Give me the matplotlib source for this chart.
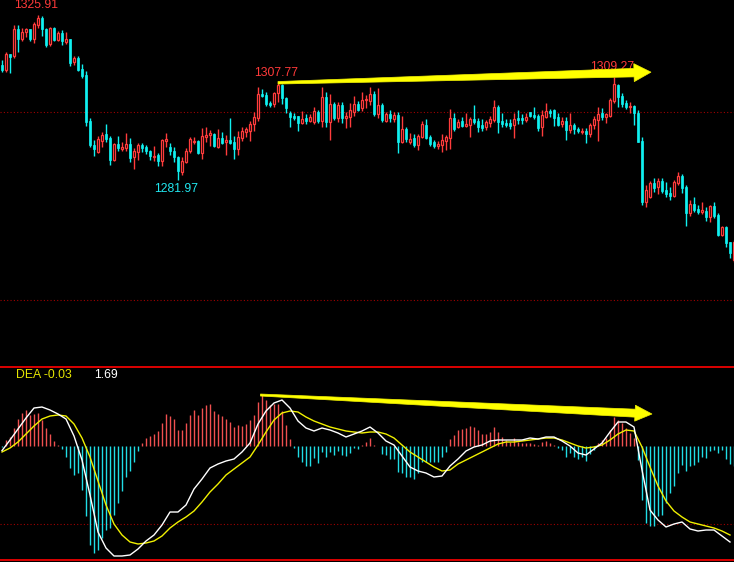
import numpy as np
import matplotlib
matplotlib.use("Agg")
import matplotlib.pyplot as plt
from matplotlib.patches import Polygon
from matplotlib.transforms import IdentityTransform

# daily candles (open / high / low / close)
opens = [
    1312.5, 1311.2, 1315.4, 1314.9, 1322.1, 1319.4, 1321.3, 1322.1, 1319.4, 1323.2,
    1325.0, 1322.1, 1318.1, 1322.4, 1319.2, 1321.0, 1318.6, 1319.4, 1313.3, 1314.4,
    1311.4, 1309.8, 1297.6, 1291.2, 1289.4, 1292.3, 1294.2, 1293.1, 1287.2, 1291.5,
    1290.2, 1290.4, 1291.5, 1288.0, 1289.4, 1291.2, 1290.7, 1289.6, 1288.0, 1288.6,
    1287.0, 1292.3, 1290.7, 1289.6, 1288.0, 1284.0, 1286.7, 1289.6, 1292.0, 1292.3,
    1289.1, 1293.4, 1293.9, 1294.2, 1290.7, 1293.1, 1292.0, 1292.6, 1292.0, 1290.2,
    1293.1, 1294.7, 1294.9, 1296.8, 1298.4, 1304.8, 1304.5, 1302.4, 1302.1, 1305.1,
    1307.2, 1303.7, 1299.7, 1298.9, 1298.9, 1297.1, 1298.4, 1297.6, 1297.3, 1300.0,
    1297.6, 1304.0, 1297.3, 1302.1, 1298.4, 1301.9, 1298.4, 1298.7, 1300.0, 1302.1,
    1301.1, 1303.2, 1302.9, 1304.8, 1299.5, 1301.9, 1297.6, 1299.5, 1298.1, 1299.2,
    1292.0, 1295.5, 1292.0, 1293.1, 1291.2, 1293.4, 1296.5, 1293.4, 1292.0, 1291.0,
    1291.2, 1292.3, 1293.1, 1298.4, 1296.0, 1297.6, 1296.3, 1296.5, 1298.1, 1297.6,
    1296.5, 1296.0, 1297.1, 1297.9, 1301.3, 1297.6, 1297.1, 1297.1, 1296.5, 1298.4,
    1298.4, 1297.9, 1300.0, 1299.2, 1298.9, 1296.0, 1298.7, 1300.3, 1300.5, 1298.7,
    1296.8, 1297.6, 1295.2, 1296.5, 1295.5, 1294.7, 1294.9, 1294.2, 1296.5, 1297.9,
    1299.7, 1298.7, 1298.9, 1302.9, 1307.2, 1304.3, 1302.4, 1301.3, 1301.6, 1299.7,
    1292.3, 1276.1, 1277.4, 1281.1, 1280.1, 1281.6, 1279.3, 1278.5, 1277.7, 1281.1,
    1283.0, 1280.1, 1273.1, 1275.5, 1274.2, 1273.4, 1273.7, 1272.1, 1275.0, 1272.6,
    1267.3, 1269.4, 1265.4, 1260.6,
]
highs = [
    1313.8, 1316.0, 1315.4, 1323.2, 1323.2, 1322.4, 1322.4, 1322.1, 1324.0, 1325.91,
    1325.5, 1322.4, 1322.6, 1322.6, 1321.6, 1321.8, 1321.3, 1319.4, 1314.9, 1314.9,
    1312.8, 1310.9, 1298.4, 1292.6, 1293.6, 1294.7, 1296.8, 1293.6, 1291.8, 1293.6,
    1292.0, 1294.4, 1293.1, 1290.4, 1291.8, 1291.8, 1291.2, 1289.9, 1291.0, 1289.1,
    1292.8, 1294.4, 1291.8, 1290.7, 1288.3, 1288.0, 1290.4, 1293.4, 1293.4, 1292.6,
    1295.7, 1296.0, 1295.2, 1294.4, 1295.5, 1294.7, 1293.9, 1298.4, 1293.6, 1294.9,
    1296.0, 1296.0, 1297.6, 1300.0, 1306.7, 1306.1, 1305.3, 1302.9, 1305.3, 1307.77,
    1307.5, 1304.0, 1300.3, 1299.7, 1298.9, 1300.3, 1299.5, 1299.5, 1301.3, 1300.5,
    1306.7, 1305.3, 1304.8, 1302.7, 1302.7, 1302.7, 1300.0, 1302.4, 1304.3, 1302.9,
    1305.3, 1304.5, 1306.7, 1305.6, 1306.4, 1302.4, 1300.0, 1300.5, 1300.0, 1300.0,
    1298.9, 1296.0, 1294.4, 1294.2, 1294.2, 1297.6, 1298.1, 1293.9, 1292.6, 1292.3,
    1294.2, 1293.9, 1300.8, 1299.7, 1298.1, 1298.7, 1299.7, 1298.7, 1301.9, 1298.4,
    1298.1, 1297.9, 1298.9, 1303.2, 1301.9, 1299.7, 1298.1, 1298.1, 1299.7, 1300.5,
    1299.5, 1299.7, 1300.0, 1301.3, 1299.5, 1300.5, 1302.4, 1300.8, 1300.8, 1299.7,
    1298.7, 1298.7, 1299.7, 1297.1, 1296.0, 1295.7, 1295.7, 1297.1, 1298.9, 1301.3,
    1301.1, 1299.7, 1303.7, 1309.27, 1307.5, 1305.1, 1303.2, 1302.7, 1301.9, 1300.5,
    1293.4, 1280.6, 1281.6, 1282.4, 1282.4, 1282.4, 1281.4, 1280.1, 1281.9, 1284.0,
    1283.5, 1280.6, 1276.6, 1277.4, 1275.3, 1276.1, 1274.7, 1275.3, 1276.1, 1273.1,
    1269.7, 1269.7, 1265.4, 1266.0,
]
lows = [
    1310.6, 1310.6, 1310.4, 1314.4, 1316.0, 1318.9, 1320.0, 1318.9, 1318.4, 1322.4,
    1320.2, 1317.3, 1317.6, 1318.9, 1318.9, 1317.8, 1318.1, 1312.2, 1312.5, 1310.9,
    1309.0, 1296.3, 1290.7, 1288.3, 1289.1, 1290.7, 1292.0, 1285.9, 1287.0, 1289.6,
    1289.6, 1289.6, 1286.7, 1284.8, 1287.2, 1289.4, 1288.8, 1287.2, 1287.0, 1285.6,
    1285.6, 1290.7, 1288.6, 1286.7, 1281.97, 1283.2, 1286.4, 1289.1, 1291.5, 1288.9,
    1287.5, 1292.0, 1291.0, 1290.7, 1290.4, 1291.5, 1288.6, 1291.5, 1287.5, 1288.6,
    1292.3, 1293.4, 1292.3, 1294.9, 1297.6, 1304.0, 1301.6, 1301.3, 1301.3, 1302.7,
    1302.1, 1299.7, 1296.0, 1297.9, 1294.9, 1296.8, 1296.8, 1297.3, 1296.8, 1297.1,
    1296.0, 1296.0, 1292.6, 1297.9, 1297.3, 1297.1, 1295.7, 1296.0, 1298.9, 1300.3,
    1300.3, 1301.1, 1301.9, 1298.9, 1298.4, 1297.3, 1297.3, 1297.3, 1297.3, 1289.1,
    1291.8, 1292.0, 1291.5, 1290.7, 1289.9, 1293.1, 1292.8, 1291.0, 1290.4, 1290.2,
    1289.4, 1289.9, 1290.2, 1294.9, 1295.7, 1296.0, 1296.0, 1293.4, 1296.8, 1294.7,
    1294.9, 1295.2, 1296.0, 1297.3, 1294.4, 1296.0, 1296.0, 1295.5, 1293.1, 1296.8,
    1296.8, 1297.3, 1298.7, 1298.1, 1294.9, 1293.6, 1298.4, 1298.7, 1296.3, 1296.3,
    1296.0, 1292.6, 1294.4, 1294.2, 1294.4, 1294.2, 1291.8, 1293.4, 1295.5, 1292.3,
    1297.9, 1297.1, 1298.7, 1302.4, 1301.3, 1301.3, 1300.8, 1299.7, 1296.5, 1291.9,
    1275.3, 1274.7, 1277.1, 1278.7, 1278.2, 1278.5, 1277.4, 1276.6, 1277.4, 1280.6,
    1278.5, 1269.7, 1272.3, 1273.4, 1272.9, 1272.9, 1271.0, 1270.7, 1271.8, 1267.0,
    1267.0, 1264.1, 1261.2, 1260.1,
]
closes = [
    1311.2, 1315.4, 1314.6, 1322.1, 1319.4, 1321.3, 1322.1, 1319.4, 1323.4, 1325.0,
    1322.1, 1317.8, 1322.4, 1319.2, 1321.0, 1318.9, 1319.4, 1313.0, 1314.4, 1311.2,
    1309.6, 1297.3, 1291.2, 1290.2, 1292.8, 1293.9, 1292.8, 1287.2, 1291.5, 1290.4,
    1290.7, 1291.5, 1287.8, 1289.6, 1291.2, 1290.4, 1289.6, 1288.3, 1288.3, 1287.0,
    1292.6, 1292.8, 1289.6, 1288.0, 1284.3, 1287.0, 1289.6, 1292.8, 1292.3, 1289.1,
    1293.6, 1293.9, 1294.4, 1291.0, 1293.1, 1291.8, 1292.6, 1291.8, 1290.2, 1293.4,
    1294.9, 1295.5, 1296.8, 1298.7, 1304.8, 1304.3, 1302.1, 1301.9, 1305.1, 1307.2,
    1303.7, 1301.1, 1298.7, 1298.4, 1297.1, 1298.1, 1297.6, 1298.7, 1300.3, 1297.6,
    1304.0, 1297.3, 1302.1, 1298.4, 1301.9, 1298.4, 1298.9, 1300.5, 1302.1, 1300.5,
    1303.2, 1303.5, 1304.8, 1299.5, 1301.9, 1297.9, 1299.5, 1298.4, 1299.2, 1292.0,
    1295.5, 1292.8, 1292.8, 1291.2, 1293.6, 1296.8, 1293.1, 1291.5, 1291.0, 1291.5,
    1292.6, 1293.4, 1298.4, 1295.5, 1297.3, 1296.3, 1296.8, 1298.1, 1297.3, 1296.0,
    1295.7, 1297.3, 1298.1, 1301.3, 1297.3, 1296.8, 1296.5, 1296.3, 1298.1, 1297.9,
    1297.9, 1298.7, 1298.9, 1298.7, 1295.7, 1299.2, 1300.3, 1299.7, 1298.4, 1296.5,
    1297.6, 1295.2, 1296.5, 1295.5, 1294.9, 1294.9, 1294.2, 1296.5, 1298.1, 1299.5,
    1298.7, 1299.5, 1303.2, 1307.5, 1304.0, 1302.1, 1301.3, 1301.6, 1299.7, 1292.0,
    1276.1, 1279.3, 1281.1, 1279.8, 1281.6, 1279.0, 1278.2, 1277.7, 1281.4, 1283.0,
    1279.8, 1273.1, 1275.5, 1273.9, 1273.4, 1273.9, 1272.1, 1275.0, 1272.3, 1267.3,
    1269.4, 1265.2, 1262.5, 1265.4,
]

# MACD lines, read every second bar
macd_idx = list(range(0, 184, 2))
dif = [
    -0.23, 0.30, 0.85, 1.40, 1.90, 1.95, 1.80, 1.60, 1.35, 0.50,
    -0.70, -2.45, -4.30, -5.10, -5.50, -5.50, -5.45, -5.15, -4.75, -4.45,
    -3.95, -3.30, -3.30, -2.95, -2.15, -1.65, -1.10, -0.90, -0.75, -0.65,
    -0.30, 0.15, 1.10, 1.75, 2.15, 2.30, 1.90, 1.25, 0.90, 0.75,
    0.90, 0.80, 0.65, 0.45, 0.60, 0.75, 0.95, 0.65, 0.25, 0.05,
    -0.50, -1.05, -1.25, -1.35, -1.55, -1.50, -1.00, -0.65, -0.25, -0.05,
    0.05, 0.25, 0.30, 0.30, 0.30, 0.30, 0.40, 0.35, 0.45, 0.45,
    0.25, 0.00, -0.35, -0.45, -0.15, 0.15, 0.70, 1.20, 1.20, 0.95,
    -1.20, -3.20, -3.70, -4.05, -3.90, -3.80, -4.15, -4.25, -4.20, -4.20,
    -4.50, -4.80,
]
dea = [
    -0.30, -0.10, 0.20, 0.60, 1.00, 1.35, 1.50, 1.55, 1.50, 1.10,
    0.40, -0.55, -1.75, -2.95, -3.90, -4.45, -4.80, -4.90, -4.85, -4.75,
    -4.50, -4.10, -3.80, -3.55, -3.25, -2.80, -2.30, -1.90, -1.45, -1.15,
    -0.85, -0.55, 0.05, 0.70, 1.30, 1.65, 1.75, 1.70, 1.45, 1.25,
    1.10, 0.95, 0.85, 0.75, 0.70, 0.65, 0.70, 0.70, 0.60, 0.40,
    0.05, -0.30, -0.55, -0.80, -1.05, -1.25, -1.20, -0.90, -0.70, -0.50,
    -0.30, -0.10, 0.10, 0.20, 0.20, 0.25, 0.30, 0.35, 0.40, 0.40,
    0.30, 0.15, 0.00, -0.10, -0.05, 0.05, 0.30, 0.60, 0.80, 0.75,
    -0.05, -1.05, -2.00, -2.75, -3.25, -3.55, -3.80, -3.90, -4.00, -4.10,
    -4.25, -4.45,
]
# MACD histogram, one bar per candle
macd_hist = [
    -0.05, 0.28, 0.45, 0.90, 1.35, 1.65, 1.78, 1.55, 1.60, 1.65,
    1.30, 0.90, 0.60, 0.25, 0.05, -0.15, -0.53, -1.10, -1.45, -1.35,
    -2.20, -3.50, -4.95, -5.35, -5.20, -4.60, -4.20, -4.10, -3.45, -2.85,
    -2.25, -1.55, -1.25, -0.80, -0.27, 0.15, 0.40, 0.50, 0.60, 0.73,
    1.15, 1.60, 1.50, 1.35, 0.80, 0.80, 1.15, 1.55, 1.80, 1.55,
    1.90, 2.05, 2.10, 1.73, 1.60, 1.50, 1.35, 1.18, 0.93, 1.05,
    1.00, 1.10, 1.30, 1.55, 2.20, 2.55, 2.30, 2.05, 2.10, 2.10,
    1.73, 1.05, 0.35, -0.10, -0.55, -0.78, -1.00, -1.00, -0.60, -0.85,
    -0.28, -0.55, -0.28, -0.45, -0.23, -0.45, -0.50, -0.35, -0.12, -0.15,
    0.05, 0.22, 0.42, 0.03, 0.02, -0.40, -0.45, -0.65, -0.67, -1.30,
    -1.35, -1.55, -1.55, -1.65, -1.35, -0.78, -0.82, -0.82, -0.78, -0.78,
    -0.53, -0.28, 0.35, 0.55, 0.80, 0.85, 0.90, 1.00, 0.95, 0.80,
    0.62, 0.62, 0.70, 0.95, 0.72, 0.45, 0.30, 0.22, 0.38, 0.22,
    0.13, 0.15, 0.15, 0.10, 0.05, 0.22, 0.25, 0.15, 0.03, -0.12,
    -0.20, -0.53, -0.37, -0.53, -0.67, -0.57, -0.73, -0.40, -0.20, 0.13,
    0.30, 0.38, 0.80, 1.43, 1.30, 1.13, 0.88, 0.67, 0.38, -0.70,
    -2.70, -3.85, -4.02, -4.00, -3.52, -3.45, -2.85, -2.35, -2.02, -1.35,
    -0.95, -1.27, -1.02, -0.95, -0.78, -0.53, -0.60, -0.23, -0.20, -0.37,
    -0.20, -0.67, -0.90, -1.00,
]

# price labels and divergence arrows
peak_labels = [(9, "1325.91"), (69, "1307.77"), (153, "1309.27")]
trough_labels = [(44, "1281.97")]
price_arrow = ((69, 1307.77), (162.25, 1310.6))
macd_arrow = ((64.6, 2.55), (162.5, 1.6))
dea_text = "DEA -0.03"
last_text = "1.69"

up_col = "#ff3c3c"
down_col = "#10f0f0"
hist_up = "#f05050"
hist_down = "#20dde6"
grid_col = "#a00000"
font = "Liberation Sans"

o = np.array(opens)
h = np.array(highs)
l = np.array(lows)
c = np.array(closes)
x = np.arange(len(o))
up = c >= o

fig = plt.figure(figsize=(7.34, 5.62), dpi=100, facecolor="black")
ax = fig.add_axes([0, 0.3488, 1, 0.6512])
ax2 = fig.add_axes([0, 0.00356, 1, 0.3434])
for a in (ax, ax2):
    a.set_facecolor("black")
    a.set_xlim(-0.5, 183.0)
    a.set_xticks([])
    a.set_yticks([])
    for s in a.spines.values():
        s.set_visible(False)


def tapered_arrow(axis, start, end, w0, w1, head_w, head_len):
    # hand-drawn style arrow: thin tail, wider shaft, big head (sizes in px)
    p0 = axis.transData.transform(start)
    p1 = axis.transData.transform(end)
    u = (p1 - p0) / np.hypot(*(p1 - p0))
    n = np.array([-u[1], u[0]])
    base = p1 - u * head_len
    pts = [p0 + n * w0 / 2, base + n * w1 / 2, base + n * head_w / 2, p1,
           base - n * head_w / 2, base - n * w1 / 2, p0 - n * w0 / 2]
    fig.add_artist(Polygon(pts, closed=True, facecolor="#ffff00",
                           edgecolor="#f0f000", lw=0.5,
                           transform=IdentityTransform(), zorder=6))


# candles
ax.set_ylim(1232.45, 1329.79)
ax.axhline(1300, color=grid_col, ls=(0, (1, 2)), lw=0.8, zorder=0)
ax.axhline(1250, color=grid_col, ls=(0, (1, 2)), lw=0.8, zorder=0)
ax.vlines(x, l, h, colors=np.where(up, up_col, down_col), lw=1.0, zorder=2)
bottom = np.minimum(o, c)
height = np.maximum(np.abs(c - o), 0.2)
ax.bar(x[up], height[up], bottom=bottom[up], width=0.72,
       facecolor="black", edgecolor=up_col, lw=0.9, zorder=3)
ax.bar(x[~up], height[~up], bottom=bottom[~up], width=0.72,
       facecolor=down_col, edgecolor=down_col, lw=0.5, zorder=3)

for i, txt in peak_labels:
    ax.annotate(txt, xy=(i, h[i]), xytext=(-1, 7), textcoords="offset points",
                ha="center", va="center", color="#ff3a3a", fontsize=8.8,
                family=font, zorder=4)
for i, txt in trough_labels:
    ax.annotate(txt, xy=(i, l[i]), xytext=(-1, -6.5), textcoords="offset points",
                ha="center", va="center", color="#20e8f0", fontsize=8.8,
                family=font, zorder=4)

# MACD panel
ax2.set_ylim(-5.7, 3.95)
ax2.spines["top"].set_visible(True)
ax2.spines["bottom"].set_visible(True)
ax2.spines["top"].set_color("#dd0000")
ax2.spines["bottom"].set_color("#dd0000")
ax2.spines["top"].set_linewidth(1.4)
ax2.spines["bottom"].set_linewidth(1.4)
ax2.axhline(-3.9, color=grid_col, ls=(0, (1, 2)), lw=0.8, zorder=0)

hist = np.array(macd_hist)
ax2.vlines(x, 0, hist, colors=np.where(hist >= 0, hist_up, hist_down), lw=1.0, zorder=2)
ax2.plot(macd_idx, dea, color="#f0f000", lw=1.0, zorder=3)
ax2.plot(macd_idx, dif, color="white", lw=1.0, zorder=4)

tapered_arrow(ax, price_arrow[0], price_arrow[1], 2.5, 8.5, 18, 17)
tapered_arrow(ax2, macd_arrow[0], macd_arrow[1], 2.0, 8.0, 16, 17)

fig.text(16 / 734, 1 - 375 / 562, dea_text, color="#e6e600", fontsize=8.8,
         family=font, ha="left", va="center")
fig.text(94 / 734, 1 - 375 / 562, last_text, color="white", fontsize=8.8,
         family=font, ha="left", va="center")

fig.savefig("out.png", dpi=100, facecolor="black")
